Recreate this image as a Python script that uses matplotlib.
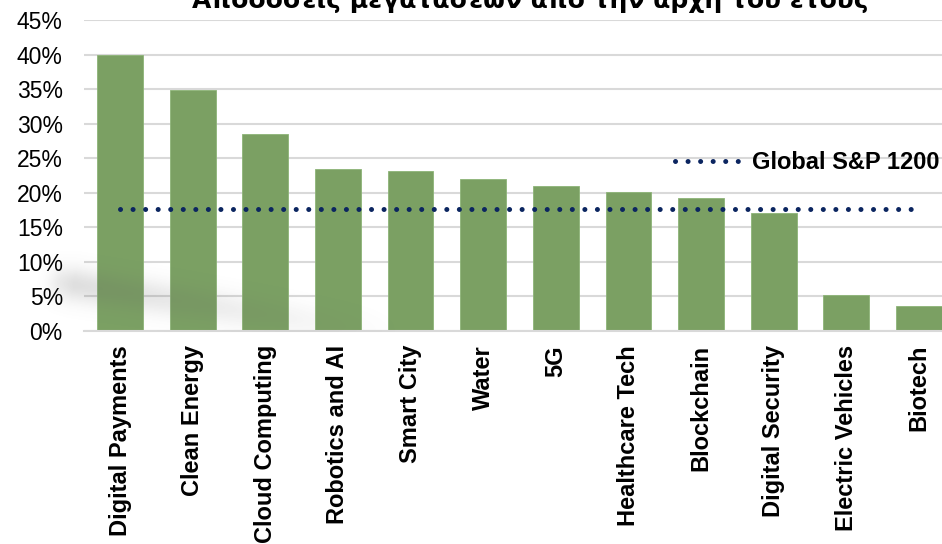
import numpy as np
import matplotlib
matplotlib.use("Agg")
import matplotlib.pyplot as plt

plt.rcParams['font.family'] = ['Liberation Sans', 'DejaVu Sans']

# Year-to-date returns of the megatrend themes (%)
themes = ["Digital Payments", "Clean Energy", "Cloud Computing", "Robotics and AI",
          "Smart City", "Water", "5G", "Healthcare Tech", "Blockchain",
          "Digital Security", "Electric Vehicles", "Biotech"]
returns = [40.0, 34.9, 28.5, 23.4, 23.2, 22.0, 21.0, 20.1, 19.2, 17.1, 5.2, 3.6]
benchmark_name = "Global S&P 1200"
benchmark = 17.7
yticks = [0, 5, 10, 15, 20, 25, 30, 35, 40, 45]

W, H = 942, 544
fig = plt.figure(figsize=(W / 100, H / 100), dpi=100)
ax = fig.add_axes([83.7 / W, 1 - 331 / H, (955.3 - 83.7) / W, (331 - 20) / H])
ax.set_facecolor('none')

x = np.arange(len(themes))
ax.bar(x, returns, width=0.63, color='#7BA063', edgecolor='#8db477', linewidth=0.6, zorder=2)
ax.plot([x[0], x[-1]], [benchmark, benchmark], color='#0b2560', linewidth=3.6,
        linestyle=(0, (0.01, 2.5)), dash_capstyle='round', zorder=3,
        label=benchmark_name)

ax.set_xlim(-0.5, len(themes) - 0.5)
ax.set_ylim(0, 45)
ax.set_yticks(yticks)
ax.set_yticklabels([f"{v}%" for v in yticks], fontsize=16.5)
ax.set_xticks(x)
ax.set_xticklabels(themes, rotation=90, fontsize=17, fontweight='bold')
ax.tick_params(axis='both', length=0)
ax.tick_params(axis='y', pad=15)
ax.tick_params(axis='x', pad=10)
ax.grid(axis='y', color='#d9d9d9', linewidth=1.5, zorder=0)
ax.set_axisbelow(True)
for side in ['top', 'right', 'left']:
    ax.spines[side].set_visible(False)
ax.spines['bottom'].set_color('#d9d9d9')
ax.spines['bottom'].set_linewidth(1.5)

leg = ax.legend(loc='center right', bbox_to_anchor=(940 / W, 1 - 163 / H),
                bbox_transform=fig.transFigure, frameon=False, borderpad=0,
                borderaxespad=0, handlelength=2.8, handletextpad=0.5,
                prop={'size': 17, 'weight': 'bold'})

# Title, partly running off the top edge
fig.text(530 / W, 1 - 8 / H, "Αποδόσεις μεγατάσεων από την αρχή του έτους",
         ha='center', va='baseline', fontsize=18, fontweight='bold',
         family=['DejaVu Sans'])

# Soft grey smudge across the lower-left bars
yy, xx = np.mgrid[0:H, 0:W]
p0 = np.array([60.0, 282.0])
p1 = np.array([400.0, 335.0])
d = p1 - p0
t = ((xx - p0[0]) * d[0] + (yy - p0[1]) * d[1]) / (d @ d)
tc = np.clip(t, 0, 1)
dist = np.hypot(xx - (p0[0] + tc * d[0]), yy - (p0[1] + tc * d[1]))
strength = np.clip(1 - t, 0, 1) * np.clip((t + 0.08) / 0.12, 0, 1)
alpha = 0.22 * strength * np.exp(-(dist / 17.0) ** 2)
alpha[yy > 331] = 0
rgba = np.zeros((H, W, 4))
rgba[..., :3] = 0.4
rgba[..., 3] = alpha
sh = fig.add_axes([0, 0, 1, 1], zorder=5)
sh.imshow(rgba, extent=(0, W, H, 0), interpolation='bilinear')
sh.set_xlim(0, W)
sh.set_ylim(H, 0)
sh.axis('off')

fig.savefig("out.png", dpi=100)
